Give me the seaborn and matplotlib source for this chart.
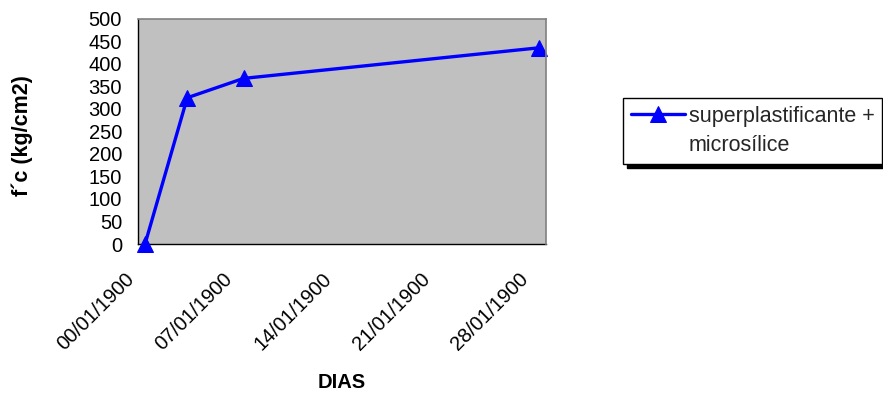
import matplotlib
matplotlib.use("Agg")
import matplotlib.pyplot as plt
import seaborn as sns
import pandas as pd

# Compressive strength of the mix over time
dias = [0, 3, 7, 28]
fc = [0, 325, 368, 436]
serie = "superplastificante +\nmicrosílice"

x_ticks = [0, 7, 14, 21, 28]
x_tick_labels = ["00/01/1900", "07/01/1900", "14/01/1900", "21/01/1900", "28/01/1900"]
y_ticks = list(range(0, 501, 50))

sns.set_theme(style="white")
plt.rcParams["font.family"] = ["Liberation Sans", "DejaVu Sans"]

W, H = 883, 396
fig = plt.figure(figsize=(W / 100, H / 100), dpi=100)
left, right, top, bottom = 138, 546, 19, 244
ax = fig.add_axes([left / W, 1 - bottom / H, (right - left) / W, (bottom - top) / H])

df = pd.DataFrame({"dias": dias, "fc": fc, "serie": serie})
# date axis: each day is one bucket, points sit in the middle of their day
df["pos"] = df["dias"] + 0.5

sns.lineplot(data=df, x="pos", y="fc", hue="serie", palette=["#0000FF"],
             marker="^", markersize=12, markeredgecolor="#0000FF",
             linewidth=2.4, clip_on=False, ax=ax, legend=True)

ax.set_facecolor("#C0C0C0")
ax.set_xlim(0, 29)
ax.set_ylim(0, 500)
ax.set_xticks(x_ticks)
ax.set_xticklabels(x_tick_labels, rotation=45, ha="right")
ax.set_yticks(y_ticks)
ax.tick_params(axis="both", direction="out", length=4, width=1, color="black",
               labelsize=14.5, labelcolor="black")
ax.tick_params(axis="x", pad=14.5)
ax.tick_params(axis="y", pad=7.5)

for side in ("top", "right"):
    ax.spines[side].set_color("#808080")
    ax.spines[side].set_linewidth(1.2)
for side in ("left", "bottom"):
    ax.spines[side].set_color("black")
    ax.spines[side].set_linewidth(1.0)
    ax.spines[side].set_zorder(0.5)

ax.set_xlabel("DIAS", fontsize=14.5, fontweight="bold", color="black")
ax.xaxis.set_label_coords(0.5, -0.575)
ax.set_ylabel("f´c (kg/cm2)", fontsize=15.5, fontweight="bold", color="black")
ax.yaxis.set_label_coords(-0.258, 0.48)

handles, labels = ax.get_legend_handles_labels()
leg = ax.legend(handles, labels, loc="upper left",
                bbox_to_anchor=(623 / W, 1 - 98 / H), bbox_transform=fig.transFigure,
                borderaxespad=0, frameon=True, fancybox=False, fontsize=15.5,
                handlelength=2.5, handleheight=1.0, handletextpad=0.2,
                borderpad=0.36,
                edgecolor="black", facecolor="white", framealpha=1,
                shadow={"ox": 3, "oy": -3.5, "color": "black", "alpha": 1})
leg.get_frame().set_linewidth(1.0)
for txt in leg.get_texts():
    txt.set_linespacing(1.5)
# keep the line sample level with the first line of the label
for column in leg._legend_handle_box.get_children():
    for row in column.get_children():
        row.align = "top"

fig.savefig("out.png", dpi=100, facecolor="white")
